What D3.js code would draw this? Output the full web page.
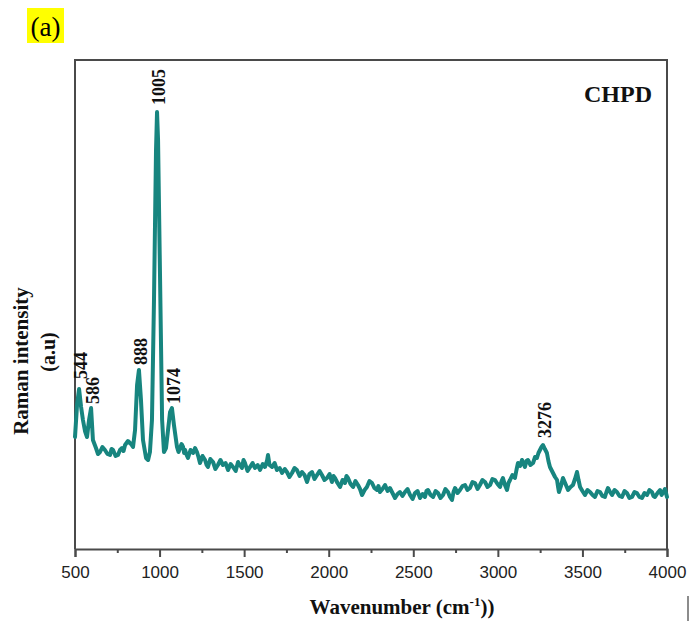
<!DOCTYPE html>
<html>
<head>
<meta charset="utf-8">
<script src="https://cdn.jsdelivr.net/npm/d3@7"></script>
<style>
  body { margin: 0; background: #fff; }
  svg { display: block; }
  .tick text { font-family: "Liberation Sans", Arial, sans-serif; font-size: 17px; fill: #222; }
  .lbl { font-family: "Liberation Serif", "Times New Roman", serif; font-weight: bold; fill: #111; }
</style>
</head>
<body>
<div id="chart"></div>
<script>
// Raman spectrum of CHPD: [wavenumber cm-1, intensity a.u.]
const spectrum = [
  [500, 112], [512, 144], [524, 160], [536, 142], [547, 129], [559, 118], [571, 112], [583, 129], [595, 141], [606, 109],
  [624, 101], [636, 95], [648, 97], [662, 102], [677, 99], [692, 95], [707, 94], [716, 100], [725, 99], [740, 93],
  [754, 94], [766, 99], [778, 101], [787, 98], [796, 104], [813, 108], [831, 105], [843, 102], [855, 119], [867, 164],
  [878, 179], [890, 149], [902, 109], [920, 91], [932, 89], [943, 97], [955, 129], [967, 249], [979, 399], [985, 437],
  [991, 409], [1003, 269], [1015, 129], [1026, 97], [1038, 101], [1050, 119], [1062, 137], [1073, 141], [1085, 124], [1103, 102],
  [1112, 97], [1121, 101], [1130, 105], [1139, 102], [1145, 96], [1151, 99], [1160, 94], [1168, 91], [1183, 99], [1198, 96],
  [1210, 101], [1221, 97], [1230, 92], [1239, 86], [1254, 93], [1269, 89], [1278, 84], [1286, 82], [1300, 90], [1316, 87],
  [1330, 80], [1345, 84], [1360, 89], [1375, 84], [1390, 86], [1405, 79], [1420, 85], [1434, 82], [1450, 78], [1464, 87],
  [1475, 84], [1487, 81], [1496, 89], [1505, 86], [1520, 78], [1535, 82], [1550, 86], [1564, 81], [1580, 84], [1594, 79],
  [1610, 85], [1623, 82], [1635, 88], [1641, 94], [1650, 84], [1665, 82], [1680, 86], [1694, 79], [1710, 81], [1724, 76],
  [1740, 80], [1753, 77], [1768, 72], [1783, 76], [1798, 81], [1812, 79], [1828, 73], [1842, 77], [1857, 74], [1872, 67],
  [1886, 75], [1901, 77], [1916, 70], [1931, 74], [1946, 78], [1960, 74], [1975, 69], [1990, 71], [2005, 75], [2019, 67],
  [2028, 73], [2037, 71], [2052, 66], [2067, 62], [2082, 69], [2096, 66], [2105, 73], [2114, 71], [2129, 65], [2144, 62],
  [2158, 68], [2173, 64], [2185, 60], [2197, 54], [2212, 59], [2226, 62], [2241, 68], [2256, 66], [2270, 61], [2285, 59],
  [2294, 63], [2303, 57], [2318, 60], [2333, 64], [2348, 58], [2362, 61], [2377, 56], [2392, 51], [2407, 55], [2421, 57],
  [2436, 53], [2451, 57], [2466, 60], [2481, 54], [2496, 50], [2510, 56], [2525, 58], [2540, 51], [2555, 55], [2569, 52],
  [2578, 58], [2587, 59], [2602, 54], [2617, 52], [2632, 58], [2646, 56], [2661, 51], [2676, 54], [2690, 60], [2705, 57],
  [2717, 52], [2729, 49], [2738, 57], [2747, 61], [2762, 56], [2776, 59], [2791, 63], [2806, 64], [2820, 59], [2835, 61],
  [2850, 67], [2865, 66], [2880, 60], [2894, 64], [2909, 69], [2924, 67], [2939, 62], [2954, 64], [2968, 70], [2983, 69],
  [2998, 65], [3013, 62], [3022, 68], [3030, 71], [3042, 64], [3054, 59], [3063, 66], [3072, 69], [3086, 74], [3101, 71],
  [3110, 79], [3119, 86], [3131, 83], [3143, 89], [3152, 85], [3160, 82], [3169, 88], [3178, 89], [3193, 84], [3208, 86],
  [3220, 92], [3231, 91], [3240, 96], [3249, 99], [3258, 102], [3267, 104], [3278, 100], [3290, 96], [3299, 88], [3308, 82],
  [3317, 79], [3326, 76], [3338, 72], [3350, 69], [3356, 62], [3361, 57], [3373, 63], [3385, 71], [3400, 65], [3415, 59],
  [3430, 62], [3444, 64], [3456, 70], [3468, 77], [3477, 69], [3486, 62], [3500, 58], [3515, 54], [3530, 59], [3545, 57],
  [3560, 54], [3574, 52], [3589, 58], [3604, 57], [3618, 53], [3633, 52], [3642, 57], [3651, 61], [3663, 57], [3675, 54],
  [3690, 59], [3704, 57], [3719, 53], [3734, 52], [3749, 58], [3763, 56], [3778, 51], [3793, 52], [3808, 57], [3822, 56],
  [3837, 52], [3852, 51], [3867, 56], [3882, 54], [3896, 59], [3911, 57], [3920, 53], [3929, 52], [3944, 56], [3959, 59],
  [3968, 54], [3976, 56], [3988, 60], [4000, 52]
];
const majorTicks = [500, 1000, 1500, 2000, 2500, 3000, 3500, 4000];
const minorTicks = [750, 1250, 1750, 2250, 2750, 3250, 3750];
const peakLabels = [
  { text: "544", wn: 524 },
  { text: "586", wn: 595 },
  { text: "888", wn: 878 },
  { text: "1005", wn: 985 },
  { text: "1074", wn: 1073 },
  { text: "3276", wn: 3267 }
];

const W = 694, H = 623;
const margin = { top: 60, right: 27, bottom: 74, left: 75 };

const svg = d3.select("#chart").append("svg")
  .attr("width", W)
  .attr("height", H);

const x = d3.scaleLinear().domain([500, 4000]).range([margin.left, W - margin.right]);
const y = d3.scaleLinear().domain([0, 489]).range([H - margin.bottom, margin.top]);

const frameColor = "#4a4a4a";

// frame: left, top, right
svg.append("path")
  .attr("d", `M${x(500)},${y(0)} V${y(489)} H${x(4000)} V${y(0)}`)
  .attr("fill", "none")
  .attr("stroke", frameColor)
  .attr("stroke-width", 2);

// bottom axis, major + minor ticks
const axisG = svg.append("g")
  .attr("transform", `translate(0,${y(0)})`)
  .call(d3.axisBottom(x).tickValues(majorTicks).tickSize(8).tickPadding(9).tickFormat(d3.format("d")));
axisG.select(".domain").attr("stroke", frameColor).attr("stroke-width", 2);
axisG.selectAll(".tick line").attr("stroke", frameColor).attr("stroke-width", 2);

const minorG = svg.append("g")
  .attr("transform", `translate(0,${y(0)})`)
  .call(d3.axisBottom(x).tickValues(minorTicks).tickSize(4).tickFormat(""));
minorG.select(".domain").remove();
minorG.selectAll(".tick line").attr("stroke", frameColor).attr("stroke-width", 2);

// spectrum
const line = d3.line().x(d => x(d[0])).y(d => y(d[1]));
svg.append("path")
  .datum(spectrum)
  .attr("d", line)
  .attr("fill", "none")
  .attr("stroke", "#17857f")
  .attr("stroke-width", 4)
  .attr("stroke-linejoin", "round")
  .attr("stroke-linecap", "round");

// peak labels, rotated, sitting just above each peak
const peakOf = wn => spectrum.find(p => p[0] === wn)[1];
const gapOf = { "544": 10, "586": 4, "888": 5, "1005": 7, "1074": 4, "3276": 7 };
svg.selectAll("text.peak")
  .data(peakLabels)
  .enter()
  .append("text")
  .attr("class", "peak lbl")
  .attr("transform", d => `translate(${x(d.wn) + 2},${y(peakOf(d.wn)) - gapOf[d.text]}) rotate(-90)`)
  .attr("dy", "0.35em")
  .style("font-size", "18px")
  .text(d => d.text);

// sample name
svg.append("text")
  .attr("class", "lbl")
  .attr("x", 652)
  .attr("y", 102)
  .attr("text-anchor", "end")
  .style("font-size", "24px")
  .text("CHPD");

// y axis title
svg.append("text")
  .attr("class", "lbl")
  .attr("transform", "translate(28,361) rotate(-90)")
  .attr("text-anchor", "middle")
  .style("font-size", "21px")
  .text("Raman intensity");
svg.append("text")
  .attr("class", "lbl")
  .attr("transform", "translate(55,352) rotate(-90)")
  .attr("text-anchor", "middle")
  .style("font-size", "20px")
  .text("(a.u)");

// x axis title
const xt = svg.append("text")
  .attr("class", "lbl")
  .attr("x", 402)
  .attr("y", 614)
  .attr("text-anchor", "middle")
  .style("font-size", "21px");
xt.append("tspan").text("Wavenumber (cm");
xt.append("tspan").attr("dy", -8).style("font-size", "13px").text("-1");
xt.append("tspan").attr("dy", 8).text("))");

// panel letter on yellow
svg.append("rect")
  .attr("x", 27).attr("y", 8)
  .attr("width", 37).attr("height", 35)
  .attr("fill", "#ffff00");
svg.append("text")
  .attr("x", 45.5)
  .attr("y", 36)
  .attr("text-anchor", "middle")
  .style("font-family", "'Liberation Serif', 'Times New Roman', serif")
  .style("font-size", "27px")
  .style("fill", "#000")
  .text("(a)");

// stray mark at bottom right of the source figure
svg.append("line")
  .attr("x1", 688).attr("x2", 688)
  .attr("y1", 596).attr("y2", 621)
  .attr("stroke", "#666")
  .attr("stroke-width", 1.5);
</script>
</body>
</html>
